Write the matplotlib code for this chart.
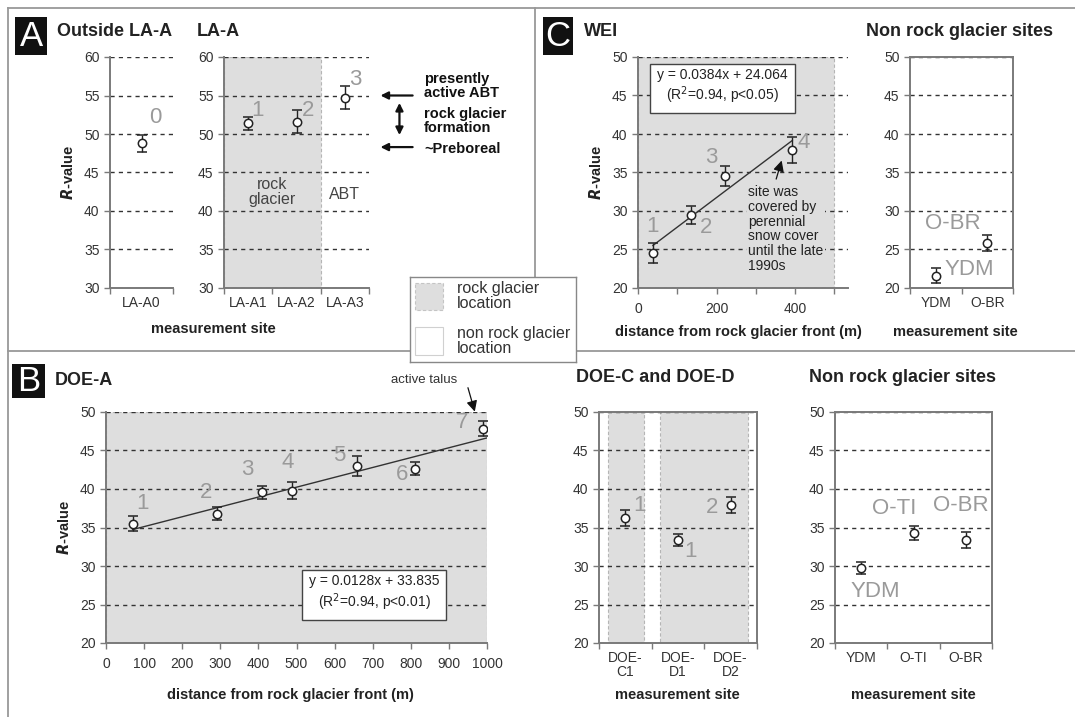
import matplotlib
matplotlib.use("Agg")
import matplotlib.pyplot as plt
from matplotlib.patches import Rectangle
from matplotlib.lines import Line2D
import numpy as np

plt.rcParams['font.family'] = ['Liberation Sans', 'DejaVu Sans']

# ---- data ----
la_out_sites = ['LA-A0']
la_out_r = [48.8]
la_out_err = [1.1]

la_sites = ['LA-A1', 'LA-A2', 'LA-A3']
la_r = [51.4, 51.6, 54.7]
la_err = [0.85, 1.5, 1.5]

wei_dist = [38, 136, 221, 393]
wei_r = [24.5, 29.5, 34.5, 37.9]
wei_err = [1.3, 1.2, 1.3, 1.7]
wei_fit = (0.0384, 24.064)

wei_nr_sites = ['YDM', 'O-BR']
wei_nr_r = [21.6, 25.8]
wei_nr_err = [1.0, 1.05]

doea_dist = [70, 291, 410, 488, 660, 812, 989]
doea_r = [35.5, 36.8, 39.55, 39.8, 43.0, 42.66, 47.84]
doea_err = [0.95, 0.8, 0.8, 1.1, 1.3, 0.9, 1.0]
doea_fit = (0.0128, 33.835)

doecd_sites = ['DOE-\nC1', 'DOE-\nD1', 'DOE-\nD2']
doecd_r = [36.2, 33.4, 37.9]
doecd_err = [1.05, 0.8, 1.0]

b_nr_sites = ['YDM', 'O-TI', 'O-BR']
b_nr_r = [29.7, 34.25, 33.4]
b_nr_err = [0.8, 0.9, 1.05]

# ---- layout helpers (pixel coords of the 1075x717 canvas) ----
W, H = 1075, 717
fig = plt.figure(figsize=(W / 100, H / 100), dpi=100)

SHADE = '#dedede'
GREY_NUM = '#9a9a9a'
SPINE = '#7a7a7a'


def add_ax(x0, y0, x1, y1):
    return fig.add_axes([x0 / W, 1 - y1 / H, (x1 - x0) / W, (y1 - y0) / H])


def ftext(x, y, s, **kw):
    fig.text(x / W, 1 - y / H, s, **kw)


def fline(xs, ys, **kw):
    fig.add_artist(Line2D([x / W for x in xs], [1 - y / H for y in ys], **kw))


def style(ax, ylim, ystep, box=False):
    for s in ['top', 'right']:
        ax.spines[s].set_visible(box)
    for s in ax.spines.values():
        s.set_color(SPINE)
        s.set_linewidth(1.4)
    ax.set_ylim(*ylim)
    ax.set_yticks(np.arange(ylim[0], ylim[1] + 0.1, ystep))
    ax.tick_params(direction='out', length=4, color=SPINE, width=1,
                   labelsize=10, labelcolor='#333')
    ax.yaxis.grid(True, linestyle=(0, (3, 3)), color='#333', lw=1)
    ax.set_axisbelow(True)
    ax.set_facecolor('none')


def categories(ax, labels):
    n = len(labels)
    ax.set_xlim(0, n)
    ax.set_xticks(np.arange(n + 1))
    ax.set_xticklabels([])
    ax.set_xticks(np.arange(n) + 0.5, minor=True)
    ax.set_xticklabels(labels, minor=True, fontsize=10, color='#333', linespacing=0.95)
    ax.tick_params(axis='x', which='minor', length=0, pad=6)


def points(ax, x, y, e):
    ax.errorbar(x, y, yerr=e, fmt='o', mfc='white', mec='#222', ms=6, mew=1.1,
                ecolor='#222', elinewidth=1, capsize=3.5, capthick=1, zorder=5)


def shade(ax, x0, x1):
    ax.axvspan(x0, x1, facecolor=SHADE, edgecolor='#b5b5b5', linestyle=(0, (3, 2)),
               lw=0.8, zorder=0.2)


def num(ax, x, y, s, size=16):
    ax.text(x, y, s, fontsize=size, color=GREY_NUM, ha='center', va='center', zorder=6)


def panel_letter(x0, y0, x1, y1, s):
    fig.add_artist(Rectangle((x0 / W, 1 - y1 / H), (x1 - x0) / W, (y1 - y0) / H,
                             transform=fig.transFigure, facecolor='#111', edgecolor='none'))
    ftext((x0 + x1) / 2, (y0 + y1) / 2 + 1, s, color='white', fontsize=25,
          ha='center', va='center')


TITLE = dict(fontsize=13, fontweight='bold', color='#222', va='center', ha='left')
XLAB = dict(fontsize=10.5, fontweight='bold', color='#222', ha='center', va='center')

# ---- frame lines ----
fline([8, W], [8, 8], color='#999', lw=1.3)
fline([8, 8], [8, H], color='#999', lw=1.3)
fline([8, W], [351, 351], color='#999', lw=1.3)
fline([535, 535], [8, 351], color='#999', lw=1.3)

# ================= Panel A =================
panel_letter(15, 17, 47, 55, 'A')
ftext(57, 31, 'Outside LA-A', **TITLE)
ftext(197, 31, 'LA-A', **TITLE)

ax = add_ax(110, 57, 173, 288)
style(ax, (30, 60), 5)
categories(ax, la_out_sites)
points(ax, [0.5], la_out_r, la_out_err)
num(ax, 0.72, 52.1, '0')
ax.set_ylabel('$\\mathbfit{R}$-value', fontsize=10.5, fontweight='bold', color='#222', labelpad=6)

ax = add_ax(224, 57, 369, 288)
style(ax, (30, 60), 5)
categories(ax, la_sites)
shade(ax, 0, 2)
points(ax, np.arange(3) + 0.5, la_r, la_err)
num(ax, 0.7, 53.1, '1')
num(ax, 1.74, 53.1, '2')
num(ax, 2.72, 57.1, '3')
ax.text(1.0, 42.5, 'rock\nglacier', fontsize=11.5, color='#444', ha='center', va='center',
        linespacing=1.0)
ax.text(2.5, 42.2, 'ABT', fontsize=11.5, color='#444', ha='center', va='center')
yt = ax.get_yaxis_transform()
ARW = dict(arrowstyle='-|>', color='#111', lw=1.6, mutation_scale=11)
ax.annotate('', xy=(1.06, 55), xytext=(1.32, 55), xycoords=yt, textcoords=yt,
            arrowprops=ARW, annotation_clip=False)
ax.annotate('', xy=(1.06, 48.3), xytext=(1.32, 48.3), xycoords=yt, textcoords=yt,
            arrowprops=ARW, annotation_clip=False)
ax.annotate('', xy=(1.21, 54.4), xytext=(1.21, 49.5), xycoords=yt, textcoords=yt,
            arrowprops=dict(arrowstyle='<|-|>', color='#111', lw=1.6, mutation_scale=11),
            annotation_clip=False)
BOLDNOTE = dict(fontsize=10.5, fontweight='bold', color='#111', ha='left', va='center',
                linespacing=1.0, transform=yt, clip_on=False)
ax.text(1.38, 56.2, 'presently\nactive ABT', **BOLDNOTE)
ax.text(1.38, 51.7, 'rock glacier\nformation', **BOLDNOTE)
ax.text(1.38, 48.1, '~Preboreal', **BOLDNOTE)
ftext(213, 329, 'measurement site', **XLAB)

# ================= Panel C =================
panel_letter(543, 17, 573, 55, 'C')
ftext(584, 32, 'WEI', **TITLE)
ftext(866, 32, 'Non rock glacier sites', **TITLE)

ax = add_ax(638, 57, 848, 288)
style(ax, (20, 50), 5)
ax.set_xlim(0, 535)
ax.set_xticks([0, 100, 200, 300, 400, 500])
ax.set_xticklabels(['0', '', '200', '', '400', ''])
ax.tick_params(axis='x', pad=6)
shade(ax, 0, 500)
points(ax, wei_dist, wei_r, wei_err)
xf = np.array([min(wei_dist), max(wei_dist)])
ax.plot(xf, wei_fit[0] * xf + wei_fit[1], color='#333', lw=1, zorder=4)
num(ax, 38, 28.0, '1')
num(ax, 174, 27.8, '2')
num(ax, 187, 37.0, '3')
num(ax, 422, 38.9, '4')
ax.text(215, 46.1, 'y = 0.0384x + 24.064\n(R$^2$=0.94, p<0.05)', fontsize=10, color='#222',
        ha='center', va='center', linespacing=1.2, zorder=6,
        bbox=dict(boxstyle='square,pad=0.5', facecolor='white', edgecolor='#444', lw=1))
ax.text(281, 33.4, 'site was\ncovered by\nperennial\nsnow cover\nuntil the late\n1990s',
        fontsize=10, color='#222', ha='left', va='top', linespacing=1.08, zorder=6,
        bbox=dict(boxstyle='square,pad=0.1', facecolor=SHADE, edgecolor='none'))
ax.annotate('', xy=(368, 36.9), xytext=(350, 33.8),
            arrowprops=dict(arrowstyle='-|>', color='#111', lw=0.9, mutation_scale=16), zorder=6)
ax.set_ylabel('$\\mathbfit{R}$-value', fontsize=10.5, fontweight='bold', color='#222', labelpad=6)
ftext(738, 332, 'distance from rock glacier front (m)', **XLAB)

ax = add_ax(910, 57, 1013, 288)
style(ax, (20, 50), 5, box=True)
categories(ax, wei_nr_sites)
points(ax, np.arange(2) + 0.5, wei_nr_r, wei_nr_err)
num(ax, 1.16, 22.4, 'YDM')
num(ax, 0.84, 28.4, 'O-BR')
ftext(955, 332, 'measurement site', **XLAB)

# ---- legend box (drawn above the frame lines) ----
lg = add_ax(410, 277, 576, 362)
lg.set_zorder(10)
lg.set_xlim(0, 166)
lg.set_ylim(85, 0)
lg.set_xticks([])
lg.set_yticks([])
lg.set_facecolor('white')
for s in lg.spines.values():
    s.set_color('#888')
    s.set_linewidth(1)
lg.add_patch(Rectangle((5, 6), 28, 27, facecolor=SHADE, edgecolor='#c4c4c4',
                       linestyle=(0, (3, 2)), lw=0.8))
lg.add_patch(Rectangle((5, 50), 28, 28, facecolor='white', edgecolor='#d0d0d0', lw=0.8))
lg.text(47, 19, 'rock glacier\nlocation', fontsize=11.5, color='#333', va='center',
        ha='left', linespacing=0.95)
lg.text(47, 64, 'non rock glacier\nlocation', fontsize=11.5, color='#333', va='center',
        ha='left', linespacing=0.95)

# ================= Panel B =================
panel_letter(12, 364, 45, 398, 'B')
ftext(55, 380, 'DOE-A', **TITLE)
ftext(576, 377, 'DOE-C and DOE-D', **TITLE)
ftext(809, 377, 'Non rock glacier sites', **TITLE)

ax = add_ax(106, 412, 487, 643)
style(ax, (20, 50), 5)
ax.set_xlim(0, 1000)
ax.set_xticks(np.arange(0, 1001, 100))
ax.tick_params(axis='x', pad=6)
shade(ax, 0, 1000)
points(ax, doea_dist, doea_r, doea_err)
xf = np.array([min(doea_dist), 1000])
ax.plot(xf, doea_fit[0] * xf + doea_fit[1], color='#333', lw=1, zorder=4)
for i, (lx, ly) in enumerate([(96, 38.1), (263, 39.5), (371, 42.5), (476, 43.4),
                              (613, 44.4), (777, 41.9), (934, 48.6)]):
    num(ax, lx, ly, str(i + 1))
ax.text(704, 26.4, 'y = 0.0128x + 33.835\n(R$^2$=0.94, p<0.01)', fontsize=10, color='#222',
        ha='center', va='center', linespacing=1.2, zorder=6,
        bbox=dict(boxstyle='square,pad=0.5', facecolor='white', edgecolor='#444', lw=1))
ax.text(835, 54.1, 'active talus', fontsize=9.5, color='#333', ha='center', va='center',
        clip_on=False)
ax.annotate('', xy=(970, 49.7), xytext=(948, 53.5),
            arrowprops=dict(arrowstyle='-|>', color='#111', lw=0.9, mutation_scale=16),
            annotation_clip=False)
ax.set_ylabel('$\\mathbfit{R}$-value', fontsize=10.5, fontweight='bold', color='#222', labelpad=6)
ftext(290, 695, 'distance from rock glacier front (m)', **XLAB)

ax = add_ax(599, 412, 757, 643)
style(ax, (20, 50), 5, box=True)
categories(ax, doecd_sites)
shade(ax, 0.17, 0.86)
shade(ax, 1.15, 2.83)
points(ax, np.arange(3) + 0.5, doecd_r, doecd_err)
num(ax, 0.76, 37.9, '1')
num(ax, 1.74, 31.9, '1')
num(ax, 2.15, 37.6, '2')
ftext(677, 695, 'measurement site', **XLAB)

ax = add_ax(835, 412, 992, 643)
style(ax, (20, 50), 5, box=True)
categories(ax, b_nr_sites)
points(ax, np.arange(3) + 0.5, b_nr_r, b_nr_err)
num(ax, 0.77, 26.7, 'YDM')
num(ax, 1.13, 37.5, 'O-TI')
num(ax, 2.4, 37.8, 'O-BR')
ftext(913, 695, 'measurement site', **XLAB)

fig.savefig('out.png', dpi=100)
